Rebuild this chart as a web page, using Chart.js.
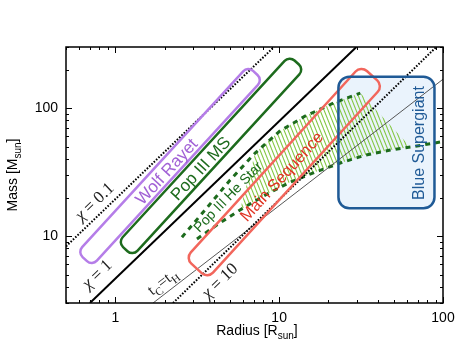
<!DOCTYPE html>
<html><head><meta charset="utf-8">
<script src="https://cdn.jsdelivr.net/npm/chart.js@4.4.0/dist/chart.umd.min.js"></script>
<style>html,body{margin:0;padding:0;background:#fff}canvas{display:block}</style>
</head><body>
<canvas id="c" width="463" height="348"></canvas>
<script>
// ---------------- data ----------------
const xTickLabels = [1, 10, 100];
const yTickLabels = [10, 100];
const xMinorTicks = [0.5,0.6,0.7,0.8,0.9,2,3,4,5,6,7,8,9,20,30,40,50,60,70,80,90];
const yMinorTicks = [3,4,5,6,7,8,9,20,30,40,50,60,70,80,90,200,300];

const chi01R = [0.5, 9.3];   const chi01M = [8.3, 300];
const chi1R  = [0.70, 29.6]; const chi1M  = [3, 300];
const chi10R = [2.25, 91];   const chi10M = [3, 300];
const tcR    = [1.7, 100];   const tcM    = [3, 168];

const heUpperR = [2.55, 3.53, 5.02, 7.13, 10.1, 14.4, 22.0, 31.3];
const heUpperM = [9.8, 16.0, 27.4, 44.5, 66.1, 86.6, 111, 131];
const heLowerR = [3.15, 4.24, 5.77, 8.21, 11.7, 16.6, 23.6, 33.6, 47.7, 63.3, 96.5];
const heLowerM = [9.5, 12.4, 16.0, 20.9, 26.4, 31.6, 37.2, 42.9, 47.0, 49.6, 54.3];

const wolfRayetR = [0.651, 7.15]; const wolfRayetM = [6.61, 188];
const popIIIMSR  = [1.15, 12.8];  const popIIIMSM  = [7.9, 227];
const mainSeqR   = [3.13, 36.9];  const mainSeqM   = [5.59, 179];
const blueSGR    = [23.0, 88.7];  const blueSGM    = [16.5, 176];

// ---------------- helpers ----------------
const pts = (R, M) => R.map((r, i) => ({x: r, y: M[i]}));
const SANS = '"Liberation Sans", Arial, Helvetica, sans-serif';
const SERIF = '"Liberation Serif", "Times New Roman", serif';

// hatched polygon built from the two He-star curves
const hatchPoly = pts(heUpperR, heUpperM).slice(3)
  .concat(pts(heLowerR, heLowerM).slice(2, 10).reverse());

function makeHatch() {
  const W = 4, H = 10;
  const c = document.createElement('canvas'); c.width = W; c.height = H;
  const g = c.getContext('2d');
  g.strokeStyle = '#86c846'; g.lineWidth = 1.1;
  for (let k = -1; k <= 1; k++) {
    g.beginPath(); g.moveTo(k * W - W, -H); g.lineTo(k * W + 2 * W, 2 * H); g.stroke();
  }
  return g.createPattern(c, 'repeat');
}

function rrPath(ctx, x, y, w, h, r) {
  ctx.moveTo(x + r, y);
  ctx.arcTo(x + w, y, x + w, y + h, r);
  ctx.arcTo(x + w, y + h, x, y + h, r);
  ctx.arcTo(x, y + h, x, y, r);
  ctx.arcTo(x, y, x + w, y, r);
  ctx.closePath();
}

function P(chart, r, m) { return [chart.scales.x.getPixelForValue(r), chart.scales.y.getPixelForValue(m)]; }
function angleOf(chart, R, M) {
  const [x1, y1] = P(chart, R[0], M[0]), [x2, y2] = P(chart, R[1], M[1]);
  return Math.atan2(y2 - y1, x2 - x1);
}

function band(ctx, chart, R, M, w, rad, color, lw) {
  const [x1, y1] = P(chart, R[0], M[0]), [x2, y2] = P(chart, R[1], M[1]);
  const L = Math.hypot(x2 - x1, y2 - y1), a = Math.atan2(y2 - y1, x2 - x1);
  ctx.save(); ctx.translate(x1, y1); ctx.rotate(a);
  ctx.beginPath(); rrPath(ctx, 0, -w / 2, L, w, rad);
  ctx.strokeStyle = color; ctx.lineWidth = lw; ctx.stroke(); ctx.restore();
}

function richText(ctx, segs, x, y, angle, size, family, color, vshift) {
  ctx.save(); ctx.translate(x, y); ctx.rotate(angle);
  ctx.fillStyle = color; ctx.textBaseline = 'alphabetic'; ctx.textAlign = 'left';
  const f = s => (s.it ? 'italic ' : '') + (s.sub ? Math.round(size * 0.7) : size) + 'px ' + family;
  let total = 0;
  for (const s of segs) { ctx.font = f(s); total += ctx.measureText(s.t).width; }
  let cx = -total / 2;
  for (const s of segs) {
    ctx.font = f(s);
    ctx.fillText(s.t, cx, vshift + (s.sub ? size * 0.28 : 0));
    cx += ctx.measureText(s.t).width;
  }
  ctx.restore();
}

// text annotations (data-space anchors)
const annotations = [
  {segs: [{t: 'Wolf Rayet'}], R: 2.04, M: 32.2, alignR: wolfRayetR, alignM: wolfRayetM, size: 17, fam: SANS, color: '#a262d6'},
  {segs: [{t: 'Pop III MS'}], R: 3.29, M: 34.0, alignR: popIIIMSR, alignM: popIIIMSM, size: 17, fam: SANS, color: '#1d6b1d'},
  {segs: [{t: 'Main Sequence'}], R: 10.3, M: 29.4, alignR: mainSeqR, alignM: mainSeqM, size: 16.5, fam: SANS, color: '#e03322'},
  {segs: [{t: 'Pop III He Star'}], R: 4.84, M: 20.35, angle: -0.80, size: 14, fam: SANS, color: '#1d6b1d'},
  {segs: [{t: 'Blue Supergiant'}], R: 70.8, M: 53.3, angle: -Math.PI / 2, size: 16, fam: SANS, color: '#1f5a96'},
  {segs: [{t: 'χ', it: true}, {t: ' = 0.1'}], R: 0.739, M: 18.8, alignR: chi01R, alignM: chi01M, size: 17, fam: SERIF, color: '#222'},
  {segs: [{t: 'χ', it: true}, {t: ' = 1'}], R: 0.765, M: 5.09, alignR: chi1R, alignM: chi1M, size: 17, fam: SERIF, color: '#222'},
  {segs: [{t: 'χ', it: true}, {t: ' = 10'}], R: 4.30, M: 4.53, alignR: chi10R, alignM: chi10M, size: 17, fam: SERIF, color: '#222'},
  {segs: [{t: 't'}, {t: 'C', sub: true}, {t: '='}, {t: 't'}, {t: 'H', sub: true}], R: 1.925, M: 4.45, alignR: tcR, alignM: tcM, size: 16, fam: SERIF, color: '#222'}
];

const shapesPlugin = {
  id: 'shapes',
  beforeDatasetsDraw(chart) {
    const ctx = chart.ctx;
    const [x1, y1] = P(chart, blueSGR[0], blueSGM[1]);
    const [x2, y2] = P(chart, blueSGR[1], blueSGM[0]);
    ctx.save(); ctx.beginPath(); rrPath(ctx, x1, y1, x2 - x1, y2 - y1, 11);
    ctx.fillStyle = '#eaf3fc'; ctx.fill(); ctx.restore();
  },
  afterDatasetsDraw(chart) {
    const ctx = chart.ctx;
    band(ctx, chart, wolfRayetR, wolfRayetM, 20, 7, '#b57de8', 2.5);
    band(ctx, chart, popIIIMSR, popIIIMSM, 20, 7, '#1d6b1d', 2.5);
    band(ctx, chart, mainSeqR, mainSeqM, 30, 8, '#f2665c', 2.5);
    const [x1, y1] = P(chart, blueSGR[0], blueSGM[1]);
    const [x2, y2] = P(chart, blueSGR[1], blueSGM[0]);
    ctx.save(); ctx.beginPath(); rrPath(ctx, x1, y1, x2 - x1, y2 - y1, 11);
    ctx.strokeStyle = '#1f5a96'; ctx.lineWidth = 2.5; ctx.stroke(); ctx.restore();

    for (const an of annotations) {
      const [x, y] = P(chart, an.R, an.M);
      const ang = an.angle !== undefined ? an.angle : angleOf(chart, an.alignR, an.alignM);
      richText(ctx, an.segs, x, y, ang, an.size, an.fam, an.color, an.size * 0.36);
    }
  },
  afterDraw(chart) {
    const ctx = chart.ctx, a = chart.chartArea, xs = chart.scales.x, ys = chart.scales.y;
    ctx.save();
    ctx.strokeStyle = '#000'; ctx.lineWidth = 1.5;
    ctx.strokeRect(a.left, a.top, a.right - a.left, a.bottom - a.top);
    ctx.lineWidth = 1;
    const tx = (v, len) => { const p = Math.round(xs.getPixelForValue(v)) + 0.5;
      ctx.beginPath(); ctx.moveTo(p, a.bottom); ctx.lineTo(p, a.bottom - len);
      ctx.moveTo(p, a.top); ctx.lineTo(p, a.top + len); ctx.stroke(); };
    const ty = (v, len) => { const p = Math.round(ys.getPixelForValue(v)) + 0.5;
      ctx.beginPath(); ctx.moveTo(a.left, p); ctx.lineTo(a.left + len, p);
      ctx.moveTo(a.right, p); ctx.lineTo(a.right - len, p); ctx.stroke(); };
    xTickLabels.forEach(v => tx(v, 6)); xMinorTicks.forEach(v => tx(v, 3));
    yTickLabels.forEach(v => ty(v, 6)); yMinorTicks.forEach(v => ty(v, 3));
    // axis titles with subscripts
    richText(ctx, [{t: 'Radius [R'}, {t: 'sun', sub: true}, {t: ']'}], 257, 335, 0, 14, SANS, '#000', 0);
    richText(ctx, [{t: 'Mass [M'}, {t: 'sun', sub: true}, {t: ']'}], 17, 175, -Math.PI / 2, 14, SANS, '#000', 0);
    ctx.restore();
  }
};

const ctx = document.getElementById('c').getContext('2d');
const lineDs = (label, R, M, color, width, dash, order) => ({
  label, data: pts(R, M), borderColor: color, borderWidth: width, borderDash: dash,
  pointRadius: 0, fill: false, tension: 0, order, borderCapStyle: 'butt'
});

new Chart(ctx, {
  type: 'line',
  data: {
    datasets: [
      lineDs('chi=0.1', chi01R, chi01M, '#000', 2, [1.6, 1.6], 1),
      lineDs('chi=1', chi1R, chi1M, '#000', 2, [], 1),
      lineDs('chi=10', chi10R, chi10M, '#000', 2, [1.6, 1.6], 1),
      lineDs('tc=tH', tcR, tcM, '#444', 0.9, [], 1),
      lineDs('He upper', heUpperR, heUpperM, '#1d6b1d', 3, [5, 5], 1),
      lineDs('He lower', heLowerR, heLowerM, '#1d6b1d', 3, [5, 5], 1),
      {label: 'hatch', data: hatchPoly, borderWidth: 0, borderColor: 'rgba(0,0,0,0)',
       backgroundColor: makeHatch(), fill: 'shape', pointRadius: 0, order: 20, tension: 0}
    ]
  },
  options: {
    responsive: false, animation: false, devicePixelRatio: 1,
    layout: {padding: {left: 0, top: 47, right: 20, bottom: 0}},
    plugins: {legend: {display: false}, tooltip: {enabled: false}},
    scales: {
      x: {
        type: 'logarithmic', min: 0.5, max: 100,
        grid: {display: false, drawTicks: false}, border: {display: false},
        afterBuildTicks: s => { s.ticks = xTickLabels.map(v => ({value: v})); },
        afterFit: s => { s.height = 45; },
        ticks: {padding: 7, color: '#000', font: {family: SANS, size: 14}, maxRotation: 0,
                autoSkip: false, callback: v => String(v)}
      },
      y: {
        type: 'logarithmic', min: 3, max: 300,
        grid: {display: false, drawTicks: false}, border: {display: false},
        afterBuildTicks: s => { s.ticks = yTickLabels.map(v => ({value: v})); },
        afterFit: s => { s.width = 66; },
        ticks: {padding: 8, color: '#000', font: {family: SANS, size: 14},
                autoSkip: false, callback: v => String(v)}
      }
    }
  },
  plugins: [shapesPlugin]
});
</script>
</body></html>
